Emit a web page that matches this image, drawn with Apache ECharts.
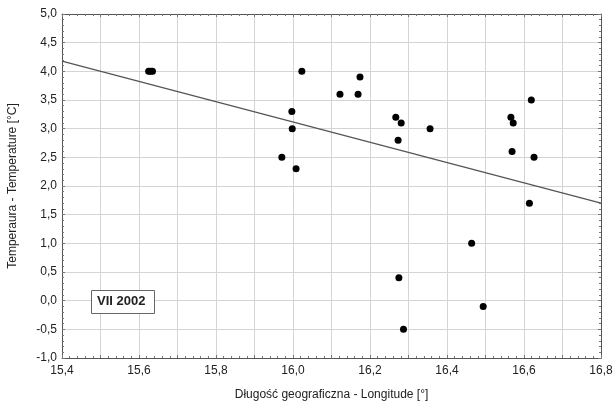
<!DOCTYPE html>
<html><head><meta charset="utf-8">
<script src="https://cdn.jsdelivr.net/npm/echarts@6/dist/echarts.min.js"></script>
<style>html,body{margin:0;padding:0;background:#fff}#c{width:614px;height:402px}</style>
</head><body><div id="c"></div>
<script>
const longitude = [15.625,15.630,15.635,16.023,15.997,15.998,15.971,16.008,16.122,16.169,16.174,16.267,16.281,16.273,16.356,16.566,16.572,16.569,16.619,16.626,16.614,16.464,16.275,16.494,16.287];
const temperature = [4.0,4.0,4.0,4.0,3.3,3.0,2.5,2.3,3.6,3.6,3.9,3.2,3.1,2.8,3.0,3.2,3.1,2.6,3.5,2.5,1.7,1.0,0.4,-0.1,-0.5];
const fitX = [15.4, 16.8];
const fitY = [4.18, 1.70];
const xTicks = [15.4,15.6,15.8,16.0,16.2,16.4,16.6,16.8];
const yTicks = [-1.0,-0.5,0.0,0.5,1.0,1.5,2.0,2.5,3.0,3.5,4.0,4.5,5.0];
const yearLabel = 'VII 2002';

const font = 'Liberation Sans, Arial, sans-serif';
const fmtComma = v => v.toFixed(1).replace('.', ',');
const chart = echarts.init(document.getElementById('c'));
const frameLine = {show:true, onZero:false, lineStyle:{color:'#555', width:1}};
const tick = {show:true, inside:true, length:3, lineStyle:{color:'#777'}};
const minor = {show:true, splitNumber:5, length:2, lineStyle:{color:'#777'}};
chart.setOption({
  animation:false,
  backgroundColor:'#fff',
  grid:{left:62, right:13, top:14, bottom:44, containLabel:false, outerBoundsMode:'none'},
  xAxis:[{
    type:'value', min:15.4, max:16.8, interval:0.1,
    name:'Długość geograficzna - Longitude [°]', nameLocation:'middle', nameGap:31,
    nameTextStyle:{color:'#222', fontFamily:font, fontSize:12},
    axisLine:frameLine, axisTick:tick, minorTick:minor,
    axisLabel:{color:'#222', fontFamily:font, fontSize:12, margin:7,
      formatter:v=>{const r=Math.round(v*10); return xTicks.some(t=>Math.round(t*10)===r)?fmtComma(v):'';}},
    splitLine:{show:true, lineStyle:{color:'#d4d4d4', width:1}}
  },{
    type:'value', position:'top', min:15.4, max:16.8, interval:0.1,
    axisLine:frameLine, axisTick:tick, minorTick:minor,
    axisLabel:{show:false}, splitLine:{show:false}
  }],
  yAxis:[{
    type:'value', min:-1, max:5, interval:0.5,
    name:'Temperaura - Temperature [°C]', nameLocation:'middle', nameGap:43, nameRotate:90,
    nameTextStyle:{color:'#222', fontFamily:font, fontSize:12},
    axisLine:frameLine, axisTick:tick, minorTick:minor,
    axisLabel:{color:'#222', fontFamily:font, fontSize:12, margin:5, formatter:v=>fmtComma(v)},
    splitLine:{show:true, lineStyle:{color:'#d4d4d4', width:1}}
  },{
    type:'value', position:'right', min:-1, max:5, interval:0.5,
    axisLine:frameLine, axisTick:tick, minorTick:minor,
    axisLabel:{show:false}, splitLine:{show:false}
  }],
  series:[{
    type:'line', data:fitX.map((x,i)=>[x,fitY[i]]), symbol:'none',
    lineStyle:{color:'#555', width:1.3}, z:2
  },{
    type:'scatter', data:longitude.map((x,i)=>[x,temperature[i]]),
    symbol:'circle', symbolSize:7, itemStyle:{color:'#000', opacity:1}, z:3
  }],
  graphic:[
    {type:'rect', left:91, top:290, z:10, shape:{x:0,y:0,width:63,height:23}, style:{fill:'#fff', stroke:'#666', lineWidth:1}},
    {type:'text', left:97, top:295, z:11, style:{text:yearLabel, fill:'#222', fontFamily:font, fontSize:13, fontWeight:'bold'}}
  ]
});
</script></body></html>
